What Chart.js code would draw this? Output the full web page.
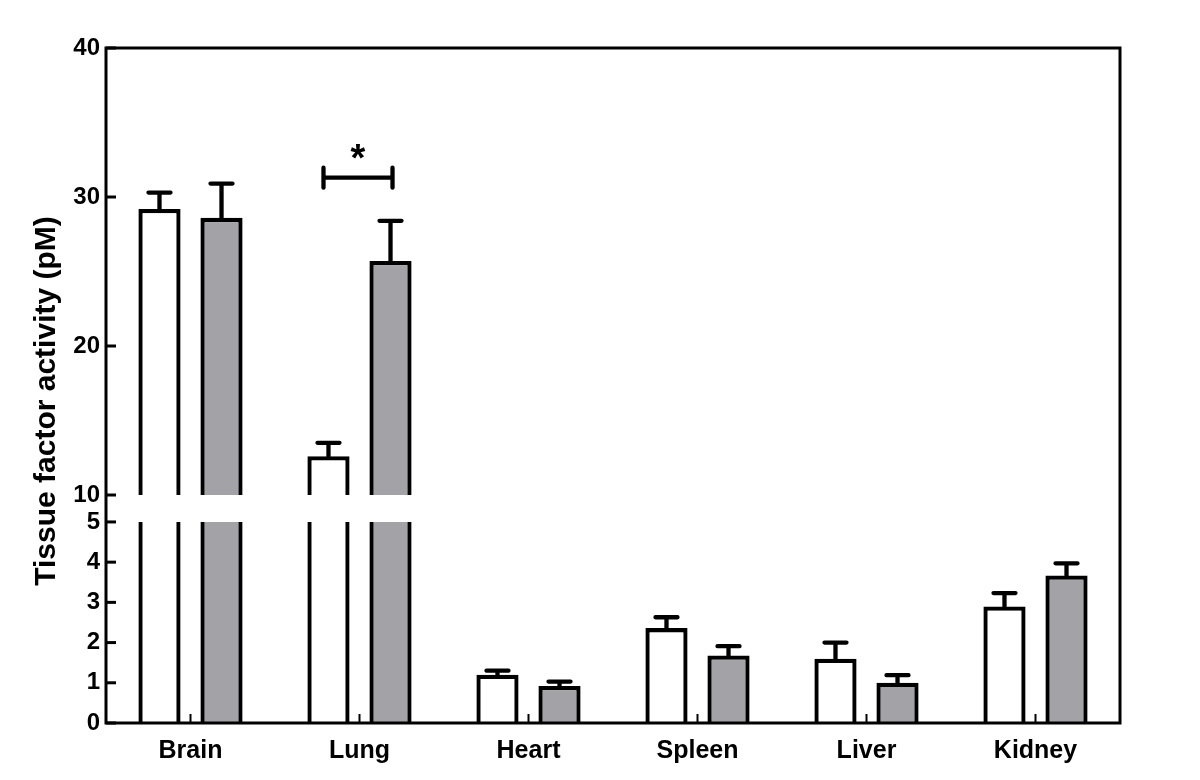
<!DOCTYPE html>
<html>
<head>
<meta charset="utf-8">
<title>Tissue factor activity</title>
<script src="https://cdn.jsdelivr.net/npm/chart.js@4.4.0/dist/chart.umd.min.js"></script>
<style>
    html, body { margin: 0; padding: 0; background: #ffffff; }
</style>
</head>
<body>
<canvas id="tfChart" width="1200" height="780"></canvas>
<script>
// Tissue factor activity per organ, open vs grey group, broken y axis

const organs = ['Brain', 'Lung', 'Heart', 'Spleen', 'Liver', 'Kidney'];
const openMean = [29.2, 12.6, 1.2, 2.36, 1.6, 2.9];
const openErr = [1.1, 0.9, 0.1, 0.27, 0.4, 0.33];
const greyMean = [28.6, 25.7, 0.92, 1.68, 1.0, 3.67];
const greyErr = [2.3, 2.7, 0.11, 0.23, 0.19, 0.3];

// tick labels of the two axis segments
const lowTicks = [0, 1, 2, 3, 4, 5];
const highTicks = [10, 20, 30, 40];

// significance bracket over Lung
const sigOrgan = 'Lung';
const sigLevel = 31.3;
const sigText = '*';

const breakLow = lowTicks[lowTicks.length - 1];
const breakHigh = highTicks[0];

const FONT = "'Liberation Sans', Arial, sans-serif";
const GREY = '#a3a2a7';
const LW = 4.3;

function lowPart(arr) {
    return arr.map(v => Math.min(v, breakLow));
}

function highPart(arr) {
    return arr.map(v => v > breakHigh ? [breakHigh, v] : null);
}

// bars cut by the break get no top edge
function lowBorder(arr) {
    return arr.map(v => ({ top: v > breakLow ? 0 : LW, left: LW, right: LW, bottom: 0 }));
}

const highBorder = { top: LW, left: LW, right: LW, bottom: 0 };

// error bars, bracket, inward ticks and frame
const decorations = {
    id: 'decorations',
    afterDatasetsDraw(chart) {
        const ctx = chart.ctx;
        const area = chart.chartArea;
        const yLow = chart.scales.yLow;
        const yHigh = chart.scales.yHigh;
        const xScale = chart.scales.x;

        ctx.save();
        ctx.strokeStyle = '#000';
        ctx.lineCap = 'round';
        ctx.lineWidth = LW;

        const groups = [[openMean, openErr, 0], [greyMean, greyErr, 1]];
        groups.forEach(([means, errs, di]) => {
            const meta = chart.getDatasetMeta(di);
            means.forEach((m, i) => {
                const bar = meta.data[i];
                const scale = m > breakLow ? yHigh : yLow;
                const y0 = scale.getPixelForValue(m);
                const y1 = scale.getPixelForValue(m + errs[i]);
                ctx.beginPath();
                ctx.moveTo(bar.x, y0);
                ctx.lineTo(bar.x, y1);
                ctx.moveTo(bar.x - 11, y1);
                ctx.lineTo(bar.x + 11, y1);
                ctx.stroke();
            });
        });

        // significance bracket
        const si = organs.indexOf(sigOrgan);
        const xa = chart.getDatasetMeta(0).data[si].x - 5;
        const xb = chart.getDatasetMeta(1).data[si].x + 2;
        const ys = yHigh.getPixelForValue(sigLevel);
        ctx.beginPath();
        ctx.moveTo(xa, ys);
        ctx.lineTo(xb, ys);
        ctx.moveTo(xa, ys - 10);
        ctx.lineTo(xa, ys + 10);
        ctx.moveTo(xb, ys - 10);
        ctx.lineTo(xb, ys + 10);
        ctx.stroke();
        ctx.fillStyle = '#000';
        ctx.font = 'bold 38px ' + FONT;
        ctx.textAlign = 'center';
        ctx.textBaseline = 'middle';
        ctx.fillText(sigText, (xa + xb) / 2, ys - 17);

        // inward tick marks
        ctx.lineCap = 'butt';
        ctx.lineWidth = 3;
        [yLow, yHigh].forEach(s => {
            s.ticks.forEach(t => {
                const y = s.getPixelForValue(t.value);
                ctx.beginPath();
                ctx.moveTo(area.left, y);
                ctx.lineTo(area.left + 10, y);
                ctx.stroke();
            });
        });
        ctx.lineWidth = 2;
        xScale.ticks.forEach((t, i) => {
            const x = xScale.getPixelForTick(i);
            ctx.beginPath();
            ctx.moveTo(x, area.bottom);
            ctx.lineTo(x, area.bottom - 9);
            ctx.stroke();
        });

        // frame
        ctx.lineWidth = 3;
        ctx.strokeRect(area.left, area.top, area.right - area.left, area.bottom - area.top);

        // y axis title
        ctx.font = 'bold 30px ' + FONT;
        ctx.translate(47, 401);
        ctx.rotate(-Math.PI / 2);
        ctx.fillText('Tissue factor activity (pM)', 0, 0);
        ctx.restore();
    }
};

const tickFont = { family: FONT, size: 24, weight: 'bold' };

new Chart(document.getElementById('tfChart').getContext('2d'), {
    type: 'bar',
    data: {
        labels: organs,
        datasets: [
            {
                label: 'open',
                data: lowPart(openMean),
                yAxisID: 'yLow',
                stack: 'open',
                backgroundColor: '#ffffff',
                borderColor: '#000000',
                borderWidth: lowBorder(openMean),
                borderSkipped: false
            },
            {
                label: 'grey',
                data: lowPart(greyMean),
                yAxisID: 'yLow',
                stack: 'grey',
                backgroundColor: GREY,
                borderColor: '#000000',
                borderWidth: lowBorder(greyMean),
                borderSkipped: false
            },
            {
                label: 'open high',
                data: highPart(openMean),
                yAxisID: 'yHigh',
                stack: 'open',
                backgroundColor: '#ffffff',
                borderColor: '#000000',
                borderWidth: highBorder,
                borderSkipped: false
            },
            {
                label: 'grey high',
                data: highPart(greyMean),
                yAxisID: 'yHigh',
                stack: 'grey',
                backgroundColor: GREY,
                borderColor: '#000000',
                borderWidth: highBorder,
                borderSkipped: false
            }
        ]
    },
    options: {
        responsive: false,
        animation: false,
        categoryPercentage: 0.734,
        barPercentage: 0.68,
        layout: {
            padding: { left: 0, top: 48, right: 80, bottom: 0 }
        },
        plugins: {
            legend: { display: false },
            tooltip: { enabled: false }
        },
        scales: {
            x: {
                stacked: true,
                grid: { display: false, drawTicks: false },
                border: { display: false },
                ticks: { color: '#000', font: { family: FONT, size: 25, weight: 'bold' }, padding: 13 },
                afterFit: s => { s.height = 57; }
            },
            yLow: {
                type: 'linear',
                position: 'left',
                stack: 'yaxis',
                stackWeight: 228,
                stacked: false,
                min: 0,
                max: 5.67,
                grid: { display: false, drawTicks: false },
                border: { display: false },
                ticks: { color: '#000', font: tickFont, padding: 6, autoSkip: false },
                afterBuildTicks: s => { s.ticks = lowTicks.map(v => ({ value: v })); },
                afterFit: s => { s.width = 106; }
            },
            yHigh: {
                type: 'linear',
                position: 'left',
                stack: 'yaxis',
                stackWeight: 447,
                stacked: false,
                min: breakHigh,
                max: highTicks[highTicks.length - 1],
                grid: { display: false, drawTicks: false },
                border: { display: false },
                ticks: { color: '#000', font: tickFont, padding: 6, autoSkip: false },
                afterBuildTicks: s => { s.ticks = highTicks.map(v => ({ value: v })); },
                afterFit: s => { s.width = 106; }
            }
        }
    },
    plugins: [decorations]
});
</script>
</body>
</html>
